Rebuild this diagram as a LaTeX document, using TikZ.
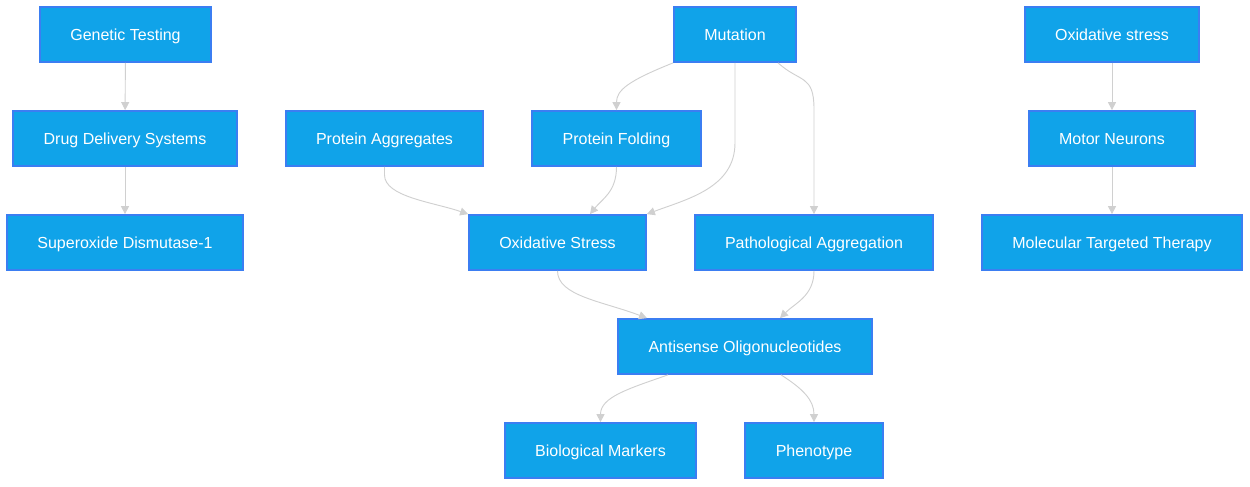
\documentclass[tikz,border=0pt]{standalone}
\usepackage{fontspec}
\setmainfont{Liberation Sans}
\usetikzlibrary{arrows.meta,calc}
\definecolor{boxfill}{HTML}{10A3E9}
\definecolor{boxline}{HTML}{3B7EF2}
\definecolor{edgegray}{HTML}{D0D0D0}
\begin{document}
\begin{tikzpicture}
        [x=0.75pt,y=-0.75pt,
        box/.style={rectangle,draw=boxline,fill=boxfill,line width=1.3pt,text=white,
          minimum height=41.25pt,inner sep=0pt,text height=10.1pt,text depth=0.9pt,
          font=\fontsize{12}{14}\selectfont},
        arr/.style={-{Triangle[length=6pt,width=6pt]},draw=edgegray,line width=0.7pt}]
        \useasboundingbox (0,0) rectangle (1250,486);
        \node (gen) at (125.5,34.5) [box,minimum width=128.25pt] {Genetic Testing};
        \node (drug) at (125,138.5) [box,minimum width=168pt] {Drug Delivery Systems};
        \node (sod) at (125,242.5) [box,minimum width=177pt] {Superoxide Dismutase-1};
        \node (agg) at (384.5,138.5) [box,minimum width=147.75pt] {Protein Aggregates};
        \node (fold) at (616.5,138.5) [box,minimum width=126.75pt] {Protein Folding};
        \node (mut) at (735,34.5) [box,minimum width=91.5pt] {Mutation};
        \node (oxtop) at (1112,34.5) [box,minimum width=130.5pt] {Oxidative stress};
        \node (motor) at (1112,138.5) [box,minimum width=124.5pt] {Motor Neurons};
        \node (mtt) at (1112,242.5) [box,minimum width=195pt] {Molecular Targeted Therapy};
        \node (oxs) at (557.5,242.5) [box,minimum width=132.75pt] {Oxidative Stress};
        \node (path) at (814,242.5) [box,minimum width=178.5pt] {Pathological Aggregation};
        \node (aso) at (745,346.5) [box,minimum width=190.5pt] {Antisense Oligonucleotides};
        \node (bio) at (600.5,450.5) [box,minimum width=143.25pt] {Biological Markers};
        \node (phen) at (814,450.5) [box,minimum width=103.5pt] {Phenotype};

        \draw[arr] (gen) -- (drug);
        \draw[arr] (drug) -- (sod);
        \draw[arr] (oxtop) -- (motor);
        \draw[arr] (motor) -- (mtt);
        \draw[arr] (mut.south west) .. controls +(-45,18) and +(0,-20) .. (fold.north);
        \draw[arr] (mut.south) -- ++(0,80) .. controls +(0,45) and +(40,-15) .. (oxs.north east);
        \draw[arr] ($(mut.south)+(43,0)$) .. controls +(22,20) and +(0,-35) .. ($(path.north)+(0,-105)$) -- (path.north);
        \draw[arr] (agg.south) -- ++(0,8) .. controls +(0,22) and +(-35,-12) .. (oxs.north west);
        \draw[arr] (fold.south) .. controls +(0,25) and +(12,-15) .. ($(oxs.north)+(32.5,0)$);
        \draw[arr] (oxs.south) .. controls +(0,25) and +(-45,-17) .. ($(aso.north)+(-98,0)$);
        \draw[arr] (path.south) .. controls +(0,25) and +(15,-15) .. ($(aso.north)+(35,0)$);
        \draw[arr] ($(aso.south)+(-77,0)$) .. controls +(-40,14) and +(0,-25) .. (bio.north);
        \draw[arr] ($(aso.south)+(36,0)$) .. controls +(22,14) and +(0,-22) .. (phen.north);
\end{tikzpicture}
\end{document}
